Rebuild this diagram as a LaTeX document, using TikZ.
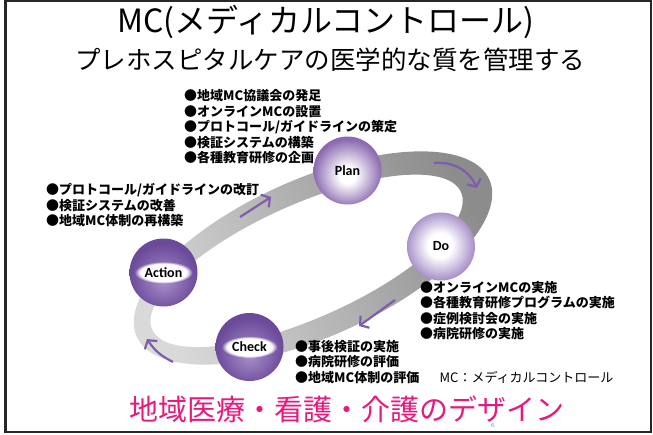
\documentclass[tikz,border=0pt]{standalone}
\usepackage{fontspec}
\usepackage{tikz}
\usetikzlibrary{positioning,arrows.meta,fadings}
\newfontfamily\jp{Noto Sans CJK JP}
\newfontfamily\lab{Carlito}

\definecolor{cyclearrow}{HTML}{7E5EAB}
\definecolor{planrim}{HTML}{8C6BB1}
\definecolor{dorim}{HTML}{A791C9}
\definecolor{darkrim}{HTML}{6B4A9A}
\definecolor{darkcore}{HTML}{A98FCB}
\definecolor{designpink}{HTML}{E8197D}

\pgfdeclareradialshading{planball}{\pgfpoint{0bp}{-4bp}}{color(0bp)=(white); color(6bp)=(white); color(25bp)=(planrim); color(50bp)=(planrim)}
\pgfdeclareradialshading{doball}{\pgfpoint{-1bp}{1bp}}{color(0bp)=(white); color(9bp)=(white); color(25bp)=(dorim); color(50bp)=(dorim)}
\pgfdeclareradialshading{darkball}{\pgfpoint{0bp}{-7bp}}{color(0bp)=(darkcore); color(25bp)=(darkrim); color(50bp)=(darkrim)}

\begin{document}
\begin{tikzpicture}[x=1pt,y=-1pt,node distance=2cm,auto,
	ball/.style={circle,minimum size=68pt,inner sep=0pt,shade,font=\lab\bfseries\fontsize{14}{16}\selectfont},
	glow/.style={white,path fading=circle with fuzzy edge 20 percent},
	list/.style={anchor=west,align=left,inner sep=0pt,font=\jp\bfseries\fontsize{13}{15.5}\selectfont},
	cyc/.style={cyclearrow,line width=2.2pt,-{Straight Barb[length=6pt,width=15pt]}}]
	\useasboundingbox (0,0) rectangle (653,434);
	\draw[line width=2.5pt,black!85] (5.5,1) rectangle (651,431.8);

	% ring
	\shade[even odd rule,top color=gray!30,bottom color=gray!90,shading angle=120]
	[rotate around={24:(313,258)}]
	(313,258) ellipse [x radius=193pt,y radius=79pt]
	(306,258) ellipse [x radius=169pt,y radius=57pt];

	\node[ball,shading=planball] (plan) at (347.5,170.5) {Plan};
	\node[ball,shading=doball] (do) at (441,246.5) {Do};
	\node[ball,shading=darkball] (check) at (249.5,347) {};
	\node[ball,shading=darkball] (action) at (163.5,272.5) {};
	\fill[glow] (check) ellipse [x radius=28pt,y radius=11pt];
	\fill[glow] (action) ellipse [x radius=29pt,y radius=11pt];
	\node[ball,shading=darkball,opacity=0,text opacity=1] (checklabel) at (check) {Check};
	\node[ball,shading=darkball,opacity=0,text opacity=1] (actionlabel) at (action) {Action};

	\coordinate (ap_s) at (240,217);
	\coordinate (ap_e) at (271,197);
	\coordinate (pd_s) at (434,163);
	\coordinate (pd_e) at (477,188);
	\coordinate (dc_s) at (395,300);
	\coordinate (dc_e) at (359,326);
	\coordinate (ca_s) at (173,362);
	\coordinate (ca_e) at (147,339);
	\draw[cyc] (ap_s) -- (ap_e);
	\draw[cyc] (pd_s) to[bend left=35] (pd_e);
	\draw[cyc] (dc_s) -- (dc_e);
	\draw[cyc] (ca_s) to[bend left=15] (ca_e);

	\node[font=\jp\fontsize{32}{32}\selectfont] (title) at (326,22) {MC(メディカルコントロール)};
	\node[font=\jp\fontsize{25.5}{26}\selectfont] (subtitle) at (330,60) {プレホスピタルケアの医学的な質を管理する};

	\node[list] (planlist) at (184,127) {●地域MC協議会の発足\\●オンラインMCの設置\\●プロトコール/ガイドラインの策定\\●検証システムの構築\\●各種教育研修の企画};
	\node[list] (actionlist) at (46,205) {●プロトコール/ガイドラインの改訂\\●検証システムの改善\\●地域MC体制の再構築};
	\node[list] (dolist) at (420,310.5) {●オンラインMCの実施\\●各種教育研修プログラムの実施\\●症例検討会の実施\\●病院研修の実施};
	\node[list] (checklist) at (295,362) {●事後検証の実施\\●病院研修の評価\\●地域MC体制の評価};
	\node[inner sep=0pt,font=\jp\fontsize{13}{15.5}\selectfont,right=20pt of checklist.south east,anchor=south west] (mcnote) {MC：メディカルコントロール};

	\node[designpink,inner sep=0pt,font=\jp\fontsize{29}{30}\selectfont] (design) at (347,409) {地域医療・看護・介護のデザイン};
	\node[gray,inner sep=0pt,font=\fontsize{6}{6}\selectfont,below=1pt of design.south,xshift=146pt] (pageno) {6};
\end{tikzpicture}
\end{document}
